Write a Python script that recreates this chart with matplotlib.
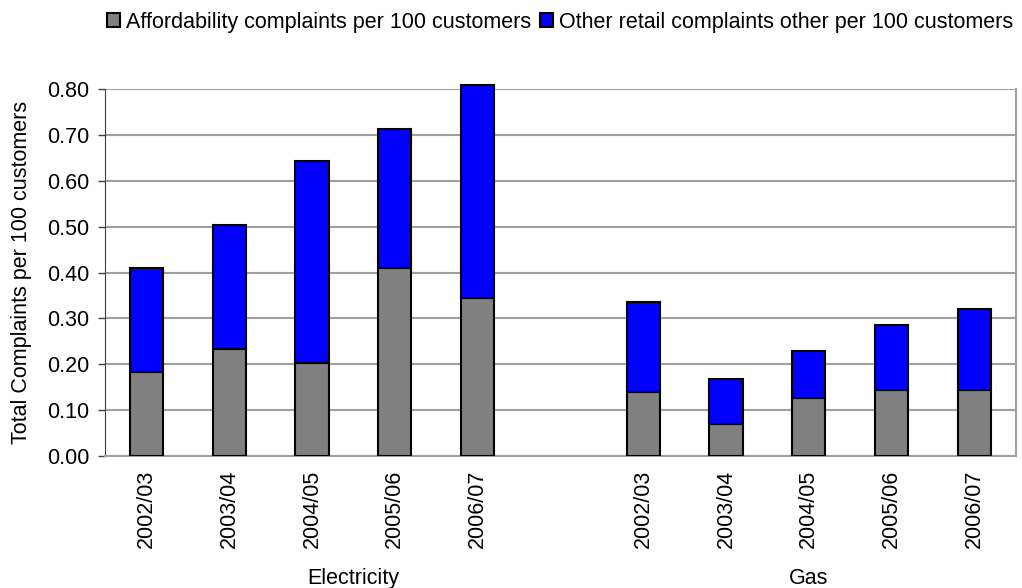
import matplotlib
matplotlib.use("Agg")
import matplotlib.pyplot as plt
import matplotlib.transforms as mtransforms
import numpy as np

plt.rcParams["font.family"] = ["Liberation Sans", "DejaVu Sans"]

years = ["2002/03", "2003/04", "2004/05", "2005/06", "2006/07"]
groups = ["Electricity", "Gas"]

elec_afford = [0.183, 0.232, 0.202, 0.410, 0.345]
elec_other_top = [0.411, 0.504, 0.643, 0.713, 0.809]
gas_afford = [0.140, 0.070, 0.127, 0.144, 0.144]
gas_other_top = [0.336, 0.167, 0.228, 0.285, 0.320]

# one empty slot between the two groups
afford = np.array(elec_afford + [np.nan] + gas_afford)
other = np.array(elec_other_top + [np.nan] + gas_other_top) - afford
labels = years + [""] + years
x = np.arange(len(labels))

fs = 15.5

fig = plt.figure(figsize=(10.22, 5.88), dpi=100)
ax = fig.add_axes([0.1027, 0.225, 0.8913, 0.623])

ax.bar(x, afford, width=0.4, color="#808080", edgecolor="black", linewidth=1.5,
       label="Affordability complaints per 100 customers", zorder=3)
ax.bar(x, other, width=0.4, bottom=afford, color="#0000ff", edgecolor="black", linewidth=1.5,
       label="Other retail complaints other per 100 customers", zorder=3, clip_on=False)

ax.set_xlim(-0.5, len(labels) - 0.5)
ax.set_ylim(0, 0.8)
ax.set_yticks(np.arange(0, 0.81, 0.1))
ax.set_yticklabels(["%.2f" % v for v in np.arange(0, 0.81, 0.1)], fontsize=fs)
ax.yaxis.grid(True, color="#a0a0a0", linewidth=1.5, zorder=0)
ax.set_axisbelow(True)

ax.set_xticks(x)
ax.set_xticklabels(labels, rotation=90, fontsize=fs)
ax.tick_params(axis="x", length=0, pad=10)
ax.tick_params(axis="y", length=5, width=1, color="#404040", pad=6)

ax.spines["top"].set_visible(False)
ax.spines["right"].set_color("#a0a0a0")
ax.spines["bottom"].set_color("#a0a0a0")
ax.spines["right"].set_linewidth(1.5)
ax.spines["bottom"].set_linewidth(1.5)
ax.spines["left"].set_color("#404040")

ax.set_ylabel("Total Complaints per 100 customers", fontsize=fs, labelpad=11)

trans = mtransforms.blended_transform_factory(ax.transData, ax.transAxes)
ax.text(2.5, -0.334, groups[0], transform=trans, ha="center", va="center", fontsize=fs)
ax.text(8, -0.334, groups[1], transform=trans, ha="center", va="center", fontsize=fs)

fig.legend(loc="center", bbox_to_anchor=(0.548, 0.962), ncol=2, frameon=False, fontsize=fs,
           handlelength=0.6, handleheight=0.6, handletextpad=0.3, columnspacing=0.4)

fig.savefig("out.png", dpi=100)
